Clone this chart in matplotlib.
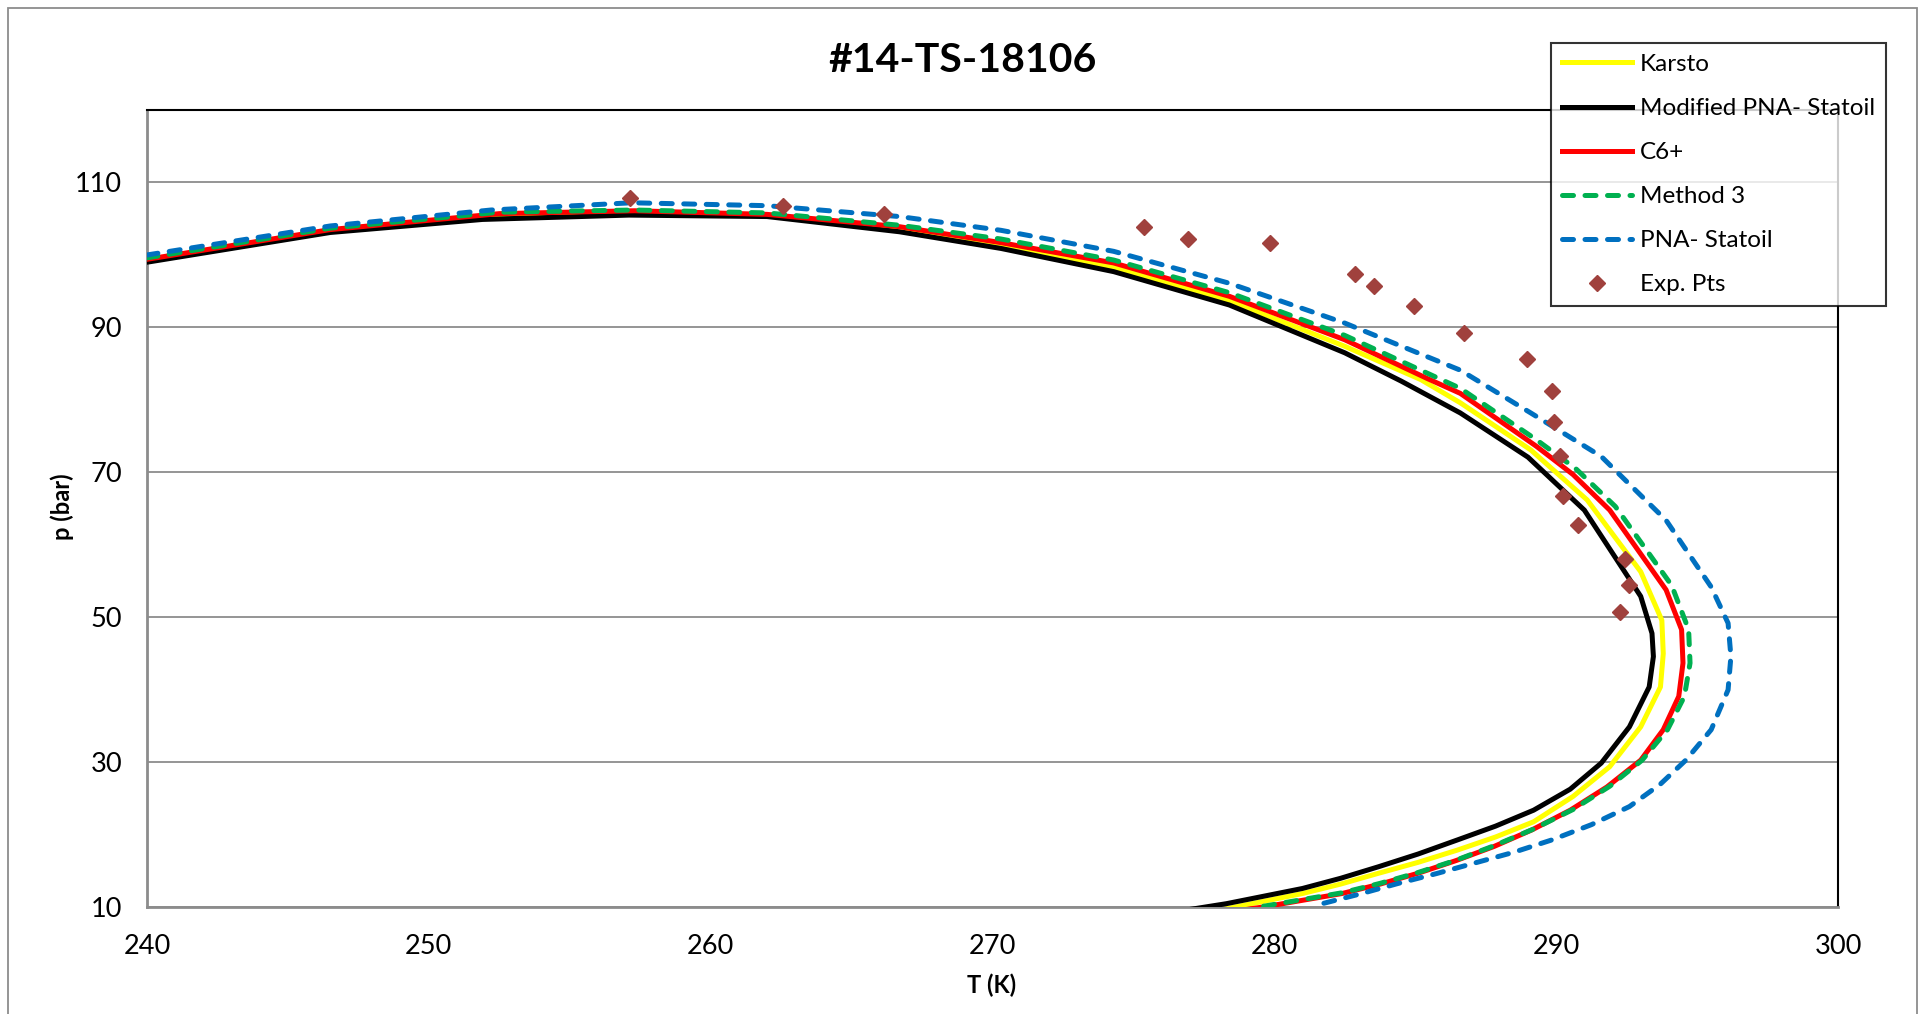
import matplotlib
matplotlib.use("Agg")
import matplotlib.pyplot as plt
from matplotlib.patches import Rectangle

plt.rcParams['font.family'] = ['Lato', 'DejaVu Sans']

# Hydrate / phase envelope curves: temperature (K) and pressure (bar)
karsto_T = [240.0, 246.5, 251.9, 257.1, 262.0, 266.7, 270.3, 274.3, 278.4, 282.5, 285.2,
            286.6, 289.1, 291.1, 293.0, 293.75, 293.8, 293.7, 293.0, 291.9, 290.6, 289.2,
            287.85, 286.5, 285.1, 283.7, 282.35, 281.0, 278.3]
karsto_p = [99.2, 103.3, 105.2, 105.8, 105.5, 103.6, 101.3, 98.3, 93.7, 87.4, 82.8,
            79.6, 73.1, 66.2, 56.3, 49.6, 45.0, 40.4, 34.9, 29.4, 25.3, 21.8,
            19.7, 17.9, 16.2, 14.7, 13.2, 11.9, 9.8]

mod_pna_T = [240.0, 246.5, 251.9, 257.1, 262.0, 266.7, 270.3, 274.3, 278.4, 282.5, 284.5,
             286.6, 289.0, 291.0, 293.0, 293.4, 293.45, 293.3, 292.6, 291.6, 290.5, 289.2,
             287.85, 286.5, 285.1, 283.7, 282.35, 281.0, 278.3, 277.0]
mod_pna_p = [99.0, 103.1, 104.9, 105.5, 105.3, 103.2, 100.9, 97.7, 93.1, 86.5, 82.6,
             78.2, 72.1, 64.8, 52.9, 47.8, 44.6, 40.4, 34.9, 29.9, 26.3, 23.4,
             21.2, 19.3, 17.35, 15.6, 14.0, 12.6, 10.5, 9.7]

c6_T = [240.0, 246.5, 252.5, 257.3, 262.0, 266.7, 270.3, 274.3, 278.4, 282.5, 285.4,
        286.6, 289.3, 290.6, 291.9, 293.9, 294.45, 294.5, 294.35, 293.8, 293.0, 291.8,
        290.5, 289.15, 287.8, 286.45, 285.1, 283.75, 282.4, 279.7, 279.0]
c6_p = [99.4, 103.5, 105.7, 106.1, 105.6, 103.9, 101.7, 98.9, 94.3, 88.3, 83.0,
        80.9, 73.6, 69.7, 64.8, 53.8, 48.3, 43.7, 39.1, 34.5, 30.3, 26.6,
        23.4, 20.7, 18.4, 16.45, 14.7, 13.2, 11.9, 10.1, 9.7]

method3_T = [240.0, 246.5, 252.5, 257.3, 262.0, 266.7, 270.3, 274.3, 278.4, 282.5, 286.6,
             289.3, 290.7, 292.1, 294.1, 294.7, 294.75, 294.55, 293.95, 293.05, 291.9,
             290.6, 289.2, 287.8, 286.45, 285.1, 283.75, 282.4, 279.7, 279.3]
method3_p = [99.6, 103.7, 105.9, 106.2, 105.8, 104.1, 102.2, 99.3, 94.8, 88.9, 81.6,
             74.5, 70.5, 65.3, 54.4, 48.3, 43.7, 39.1, 34.5, 30.3, 26.7,
             23.5, 20.8, 18.5, 16.5, 14.8, 13.3, 12.0, 10.2, 10.0]

pna_T = [240.0, 246.5, 252.2, 257.2, 262.0, 266.7, 270.3, 274.3, 278.4, 282.5, 286.6,
         289.1, 291.6, 292.2, 293.9, 295.5, 296.1, 296.2, 296.1, 295.5, 294.6, 293.7,
         292.6, 291.25, 289.85, 288.5, 287.1, 285.75, 284.4, 283.05, 281.7, 281.4]
pna_p = [100.0, 104.0, 106.2, 107.2, 106.8, 105.3, 103.4, 100.5, 96.1, 90.6, 84.1,
         78.2, 72.2, 69.9, 63.4, 54.2, 49.2, 44.6, 40.0, 34.5, 30.3, 27.0,
         23.9, 21.4, 19.3, 17.6, 16.1, 14.65, 13.3, 11.85, 10.5, 9.9]

# Experimental points
exp_T = [257.15, 262.56, 266.16, 275.36, 276.95, 279.86, 282.86, 283.55, 284.95, 286.74,
         288.96, 289.84, 289.94, 290.14, 290.26, 290.76, 292.46, 292.57, 292.26]
exp_p = [107.8, 106.8, 105.6, 103.9, 102.2, 101.6, 97.4, 95.7, 93.0, 89.2,
         85.6, 81.2, 76.9, 72.2, 66.8, 62.8, 58.0, 54.4, 50.8]

x_ticks = [240, 250, 260, 270, 280, 290, 300]
y_ticks = [10, 30, 50, 70, 90, 110]

W, H = 1923, 1014
fig = plt.figure(figsize=(W / 100, H / 100), dpi=100)
fig.patch.set_facecolor('white')

# outer chart frame
fig.patches.append(Rectangle((8 / W, -0.01), (1917 - 8) / W, 1.01 - 8 / H,
                             transform=fig.transFigure, fill=False,
                             edgecolor='#8c8c8c', linewidth=1.3, zorder=0))

ax = fig.add_axes([147 / W, 1 - 907.3 / H, (1838 - 147) / W, (907.3 - 110) / H])

grid_col = '#8c8c8c'
lw = 3.6
dash = (2.2, 2.3)
ax.plot(karsto_T, karsto_p, color='#FFFF00', lw=lw, solid_joinstyle='round',
        label='Karsto', zorder=3)
ax.plot(mod_pna_T, mod_pna_p, color='black', lw=lw, solid_joinstyle='round',
        label='Modified PNA- Statoil', zorder=4)
ax.plot(c6_T, c6_p, color='#FF0000', lw=lw, solid_joinstyle='round',
        label='C6+', zorder=5)
l3, = ax.plot(method3_T, method3_p, color='#00B050', lw=lw, label='Method 3', zorder=6,
              dash_capstyle='round')
l3.set_dashes(dash)
l4, = ax.plot(pna_T, pna_p, color='#0070C0', lw=lw, label='PNA- Statoil', zorder=7,
              dash_capstyle='round')
l4.set_dashes(dash)
ax.plot(exp_T, exp_p, linestyle='none', marker='D', markersize=8,
        color='#A0413D', markeredgecolor='#A0413D', label='Exp. Pts', zorder=8)

ax.set_xlim(240, 300)
ax.set_ylim(10, 120)
ax.set_xticks(x_ticks)
ax.set_yticks(y_ticks)
ax.tick_params(axis='both', length=0, labelsize=19.5, colors='black')
ax.tick_params(axis='x', pad=19)
ax.tick_params(axis='y', pad=18)
ax.grid(axis='y', color=grid_col, linewidth=1.3)
ax.set_axisbelow(True)

ax.spines['left'].set_color(grid_col)
ax.spines['bottom'].set_color(grid_col)
ax.spines['left'].set_linewidth(2.0)
ax.spines['bottom'].set_linewidth(2.0)
ax.spines['top'].set_color('black')
ax.spines['right'].set_color('black')
ax.spines['top'].set_linewidth(1.5)
ax.spines['right'].set_linewidth(1.5)

ax.set_xlabel('T (K)', fontsize=17, fontweight='bold')
ax.xaxis.set_label_coords((992 - 147) / (1838 - 147), -(985 - 907.3) / (907.3 - 110))
ax.xaxis.label.set_va('center')
ax.set_ylabel('p (bar)', fontsize=17, fontweight='bold')
ax.yaxis.set_label_coords(-(147 - 62) / (1838 - 147), (907.3 - 507) / (907.3 - 110))
ax.yaxis.label.set_va('center')

fig.text(963 / W, 1 - 60 / H, '#14-TS-18106', ha='center', va='center',
         fontsize=29.5, fontweight='bold')

leg = ax.legend(loc='upper left', bbox_to_anchor=(1551 / W, 1 - 43 / H),
                bbox_transform=fig.transFigure, fontsize=17.5, frameon=True,
                fancybox=False, edgecolor='black', handlelength=2.9,
                handletextpad=0.3, labelspacing=0.95, borderpad=0.45,
                borderaxespad=0)
leg.get_frame().set_linewidth(1.5)
leg.set_zorder(20)

fig.savefig('out.png', dpi=100, facecolor='white')
